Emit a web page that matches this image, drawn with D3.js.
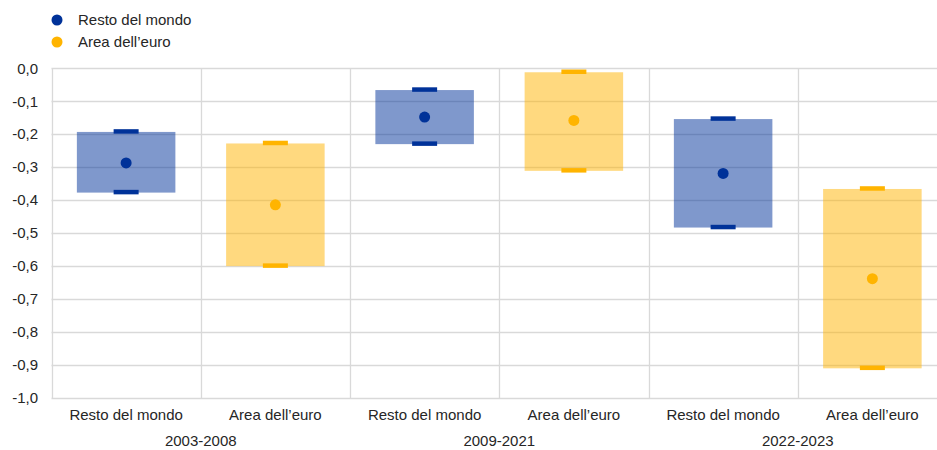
<!DOCTYPE html>
<html>
<head>
<meta charset="utf-8">
<script src="https://cdn.jsdelivr.net/npm/d3@7"></script>
<style>
  body { margin: 0; background: #fff; }
  svg { display: block; font-family: "Liberation Sans", Arial, sans-serif; }
</style>
</head>
<body>
<div id="chart"></div>
<script>
// categories and periods
var categories = ["Resto del mondo", "Area dell\u2019euro", "Resto del mondo", "Area dell\u2019euro", "Resto del mondo", "Area dell\u2019euro"];
var periods = ["2003-2008", "2009-2021", "2022-2023"];
var seriesKey = ["rdm", "ea", "rdm", "ea", "rdm", "ea"];
// range high/low and central point
var highValues = [-0.193, -0.228, -0.066, -0.012, -0.154, -0.366];
var lowValues = [-0.377, -0.600, -0.230, -0.311, -0.483, -0.910];
var midValues = [-0.287, -0.414, -0.148, -0.158, -0.319, -0.638];
var yTicks = [0, -0.1, -0.2, -0.3, -0.4, -0.5, -0.6, -0.7, -0.8, -0.9, -1.0];
var legendItems = [{key: "rdm", label: "Resto del mondo"}, {key: "ea", label: "Area dell\u2019euro"}];

var colors = {rdm: "#003299", ea: "#FFB400"};
var textCol = "#262626";

var width = 937, height = 450;
var margin = {left: 51.5, top: 68.3, right: -10, bottom: 52};

var svg = d3.select("#chart").append("svg")
  .attr("width", width).attr("height", height);

var x = d3.scaleBand()
  .domain(d3.range(categories.length))
  .range([margin.left, width - margin.right])
  .paddingInner(0).paddingOuter(0);

var y = d3.scaleLinear()
  .domain([0, -1])
  .range([margin.top, height - margin.bottom]);

// horizontal gridlines
svg.append("g").selectAll("line").data(yTicks).enter().append("line")
  .attr("x1", margin.left).attr("x2", width - margin.right)
  .attr("y1", function (d) { return Math.round(y(d)) + 0.5; })
  .attr("y2", function (d) { return Math.round(y(d)) + 0.5; })
  .attr("stroke", "#d9d9d9").attr("stroke-width", 1.3);

// vertical separators
var seps = d3.range(categories.length + 1);
svg.append("g").selectAll("line").data(seps).enter().append("line")
  .attr("x1", function (d) { return Math.round(margin.left + d * x.bandwidth()) + 0.5; })
  .attr("x2", function (d) { return Math.round(margin.left + d * x.bandwidth()) + 0.5; })
  .attr("y1", y(0)).attr("y2", y(-1))
  .attr("stroke", "#d9d9d9").attr("stroke-width", 1.3);

// y tick labels
var fmt = function (d) { return d3.format(".1f")(d).replace(".", ",").replace("\u2212", "-"); };
svg.append("g").selectAll("text").data(yTicks).enter().append("text")
  .attr("x", 38).attr("y", function (d) { return y(d); })
  .attr("dy", "0.35em").attr("text-anchor", "end")
  .attr("font-size", 15).attr("fill", textCol)
  .text(fmt);

var boxW = x.bandwidth() * 0.66;
var dashW = 25, dashH = 4.5;

var g = svg.append("g");
categories.forEach(function (c, i) {
  var cx = x(i) + x.bandwidth() / 2;
  var col = colors[seriesKey[i]];
  g.append("rect")
    .attr("x", cx - boxW / 2).attr("width", boxW)
    .attr("y", y(highValues[i])).attr("height", y(lowValues[i]) - y(highValues[i]))
    .attr("fill", col).attr("fill-opacity", 0.5);
  [highValues[i], lowValues[i]].forEach(function (v) {
    g.append("rect")
      .attr("x", cx - dashW / 2).attr("width", dashW)
      .attr("y", y(v) - dashH / 2 - 0.5).attr("height", dashH)
      .attr("fill", col);
  });
  g.append("circle")
    .attr("cx", cx).attr("cy", y(midValues[i])).attr("r", 5.5)
    .attr("fill", col);
  svg.append("text")
    .attr("x", cx).attr("y", 420)
    .attr("text-anchor", "middle").attr("font-size", 15).attr("fill", textCol)
    .text(c);
});

// period labels
periods.forEach(function (p, k) {
  var cx = x(k * 2) + x.bandwidth();
  svg.append("text")
    .attr("x", cx).attr("y", 446)
    .attr("text-anchor", "middle").attr("font-size", 15).attr("fill", textCol)
    .text(p);
});

// legend
var lg = svg.append("g").selectAll("g").data(legendItems).enter().append("g")
  .attr("transform", function (d, i) { return "translate(57," + (20 + i * 22) + ")"; });
lg.append("circle").attr("r", 5.5).attr("fill", function (d) { return colors[d.key]; });
lg.append("text").attr("x", 21).attr("dy", "0.35em")
  .attr("font-size", 15).attr("fill", textCol)
  .text(function (d) { return d.label; });
</script>
</body>
</html>
